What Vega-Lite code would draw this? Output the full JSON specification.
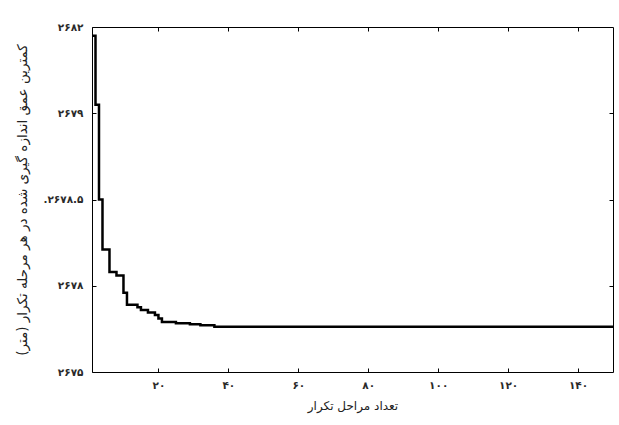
{
  "$schema": "https://vega.github.io/schema/vega-lite/v6.json",
  "width": 521,
  "height": 345,
  "autosize": {"type": "none"},
  "padding": {"left": 92, "top": 27, "right": 6, "bottom": 53},
  "background": "white",
  "config": {
    "view": {"stroke": "black", "strokeWidth": 1},
    "font": "DejaVu Sans",
    "axis": {
      "domain": false,
      "grid": false,
      "tickColor": "black",
      "tickWidth": 1,
      "tickSize": -4,
      "labelFont": "DejaVu Sans",
      "labelFontSize": 10.5,
      "labelFontWeight": "bold",
      "labelColor": "#2a2a2a",
      "titleFont": "DejaVu Sans",
      "titleFontSize": 12,
      "titleFontWeight": "normal",
      "titleColor": "#222222"
    }
  },
  "data": {
    "values": [
      {"iteration": 1, "depth": 2679.45},
      {"iteration": 2, "depth": 2679.05},
      {"iteration": 3, "depth": 2678.5},
      {"iteration": 4, "depth": 2678.21},
      {"iteration": 6, "depth": 2678.08},
      {"iteration": 8, "depth": 2678.06},
      {"iteration": 10, "depth": 2677.96},
      {"iteration": 11, "depth": 2677.89},
      {"iteration": 14, "depth": 2677.875},
      {"iteration": 15, "depth": 2677.86},
      {"iteration": 17, "depth": 2677.845},
      {"iteration": 19, "depth": 2677.83},
      {"iteration": 20, "depth": 2677.81},
      {"iteration": 21, "depth": 2677.79},
      {"iteration": 25, "depth": 2677.783},
      {"iteration": 29, "depth": 2677.777},
      {"iteration": 32, "depth": 2677.771},
      {"iteration": 36, "depth": 2677.763},
      {"iteration": 150, "depth": 2677.763}
    ]
  },
  "layer": [
    {
      "mark": {"type": "line", "interpolate": "step-after", "color": "black", "strokeWidth": 2.5},
      "encoding": {
        "x": {
          "field": "iteration",
          "type": "quantitative",
          "scale": {"domain": [1, 150], "nice": false, "zero": false},
          "axis": {
            "orient": "bottom",
            "values": [20, 40, 60, 80, 100, 120, 140],
            "labelExpr": "replace(replace(replace(replace(replace(replace(datum.label, regexp('0','g'), '۰'), regexp('1','g'), '۱'), regexp('2','g'), '۲'), regexp('4','g'), '۴'), regexp('6','g'), '۶'), regexp('8','g'), '۸')",
            "labelPadding": 12,
            "title": "تعداد مراحل تکرار",
            "titlePadding": 10
          }
        },
        "y": {
          "field": "depth",
          "type": "quantitative",
          "scale": {"domain": [2677.5, 2679.5], "nice": false, "zero": false},
          "axis": {
            "orient": "left",
            "values": [2677.5, 2678, 2678.5, 2679, 2679.5],
            "labelExpr": "datum.value == 2679.5 ? '۲۶۸۲' : datum.value == 2679 ? '۲۶۷۹' : datum.value == 2678.5 ? '.۲۶۷۸.۵' : datum.value == 2678 ? '۲۶۷۸' : '۲۶۷۵'",
            "labelPadding": 13,
            "title": "کمترین عمق اندازه گیری شده در هر مرحله تکرار (متر)",
            "titleFontSize": 13.5,
            "titlePadding": 13
          }
        }
      }
    },
    {
      "mark": {"type": "line", "interpolate": "step-after", "strokeOpacity": 0},
      "encoding": {
        "x": {
          "field": "iteration",
          "type": "quantitative",
          "scale": {"domain": [1, 150], "nice": false, "zero": false},
          "axis": {"orient": "top", "values": [20, 40, 60, 80, 100, 120, 140], "labels": false, "title": null}
        },
        "y": {
          "field": "depth",
          "type": "quantitative",
          "scale": {"domain": [2677.5, 2679.5], "nice": false, "zero": false},
          "axis": {"orient": "right", "values": [2678, 2678.5, 2679], "labels": false, "title": null}
        }
      }
    }
  ],
  "resolve": {"axis": {"x": "independent", "y": "independent"}}
}
